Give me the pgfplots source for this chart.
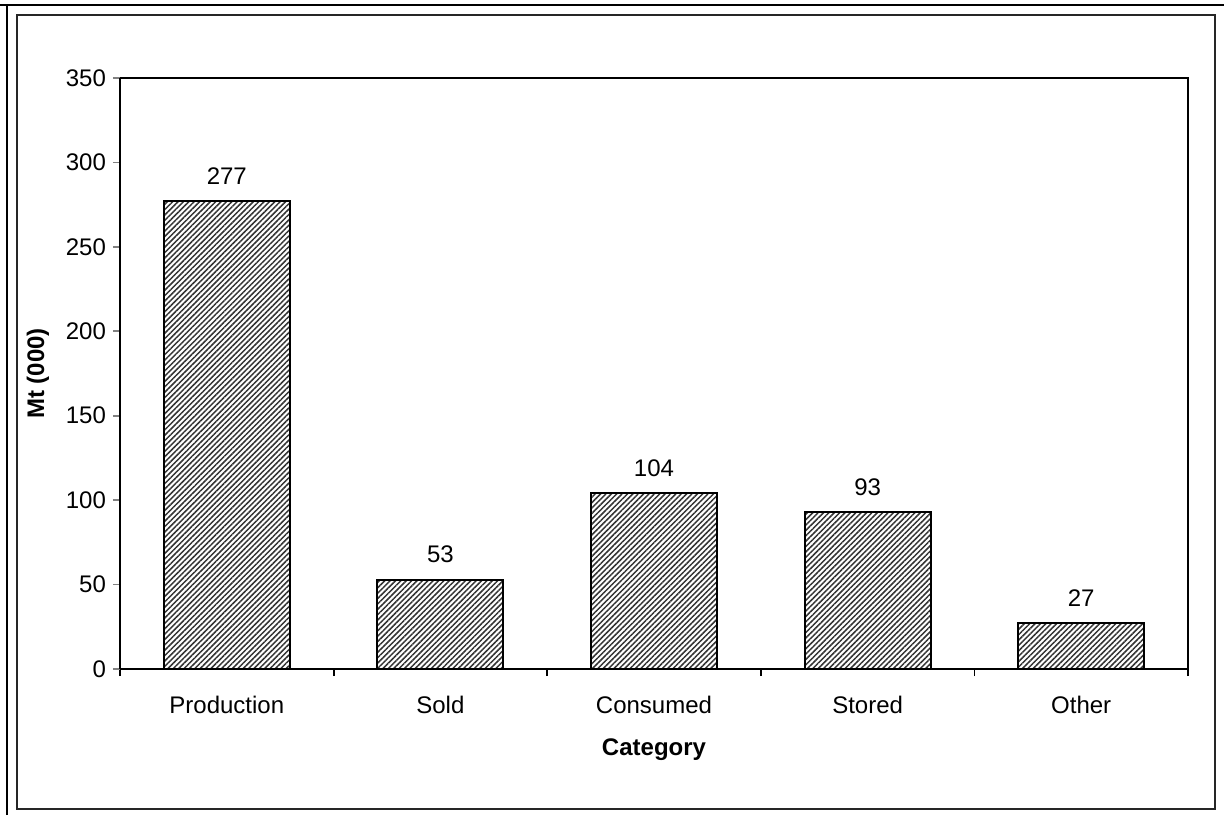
\documentclass[border=0pt]{standalone}
\usepackage{pgfplots}
\pgfplotsset{compat=1.18}
\usepackage{fontspec}
\setmainfont{Liberation Sans}
\usetikzlibrary{patterns.meta}
\begin{document}
\begin{tikzpicture}
\useasboundingbox (0,0) rectangle (612pt,407.5pt);
\draw[line width=1.2pt] (0,405pt) -- (612pt,405pt);
\draw[line width=1.2pt] (3.5pt,0) -- (3.5pt,405pt);
\draw[line width=1.1pt, black!85] (8.5pt,3pt) rectangle (607.5pt,400pt);
\begin{axis}[
  at={(60pt,73pt)}, anchor=south west,
  scale only axis, width=534pt, height=295.5pt,
  ymin=0, ymax=350, ytick={0,50,...,350},
  xmin=-0.5, xmax=4.5,
  xtick={0,1,2,3,4},
  xticklabels={Production,Sold,Consumed,Stored,Other},
  minor xtick={-0.5,0.5,1.5,2.5,3.5,4.5},
  tick align=outside,
  major tick length=3.5pt, minor tick length=3.5pt,
  x tick style={draw=none},
  minor x tick style={draw=black, line width=0.9pt},
  y tick style={line width=0.9pt},
  axis line style={line width=1pt},
  axis y line*=left, axis x line*=bottom,
  tick label style={font=\fontsize{12}{14}\selectfont},
  xticklabel style={yshift=-6.5pt},
  /pgf/number format/assume math mode=true,
  xlabel={\textbf{Category}},
  ylabel={\textbf{Mt (000)}},
  label style={font=\fontsize{12}{14}\selectfont},
  xlabel style={yshift=-5.5pt},
  ylabel style={yshift=1.5pt},
  nodes near coords,
  nodes near coords style={font=\fontsize{12}{14}\selectfont, yshift=4.5pt},
]
\addplot[ybar, bar width=63pt, draw=black, line width=1pt,
  pattern={Lines[angle=45,distance=1.9pt,line width=0.75pt]}, pattern color=black!80]
  coordinates {(0,277) (1,53) (2,104) (3,93) (4,27)};
\end{axis}
\draw[line width=1pt] (60pt,368.5pt) -- (594pt,368.5pt) -- (594pt,73pt);
\end{tikzpicture}
\end{document}
